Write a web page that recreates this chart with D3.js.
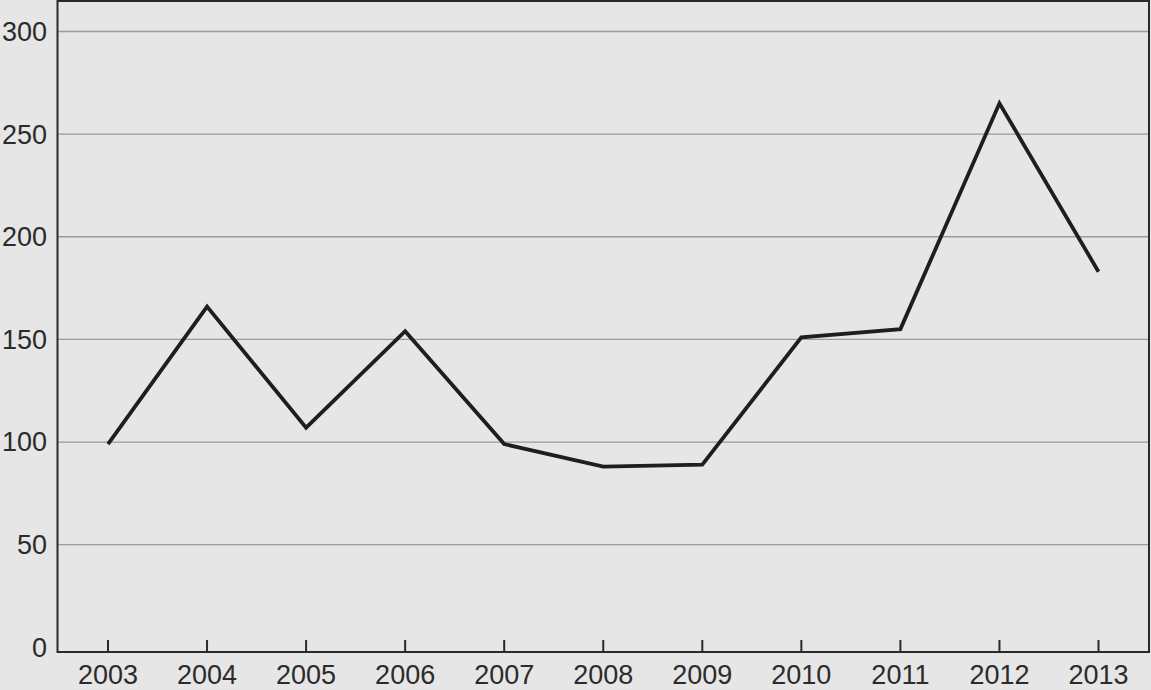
<!DOCTYPE html>
<html>
<head>
<meta charset="utf-8">
<script src="https://cdn.jsdelivr.net/npm/d3@7"></script>
<style>
  html, body { margin: 0; padding: 0; background: #e6e6e6; }
  svg { display: block; }
  text { font-family: "Liberation Sans", Arial, sans-serif; fill: #2b2b2b; }
</style>
</head>
<body>
<svg id="chart" width="1151" height="690"></svg>
<script>
// Data
const years = ['2003', '2004', '2005', '2006', '2007', '2008', '2009', '2010', '2011', '2012', '2013'];
const values = [99, 166, 107, 154, 99, 88, 89, 151, 155, 265, 183];
const yTicks = [0, 50, 100, 150, 200, 250, 300];

const svg = d3.select('#chart');
const width = 1151;
const height = 690;

// Plot frame
const frameLeft = 57.5;
const frameRight = 1149;
const frameTop = 1;
const frameBottom = 652;

const x = d3.scalePoint()
    .domain(years)
    .range([108, 1098.5]);

const y = d3.scaleLinear()
    .domain([0, 300])
    .range([647.3, 31.5]);

// Background
svg.append('rect')
    .attr('width', width)
    .attr('height', height)
    .attr('fill', '#e6e6e6');

// Gridlines (skip zero)
svg.append('g')
    .selectAll('line')
    .data(yTicks.filter(d => d > 0))
    .enter().append('line')
    .attr('x1', frameLeft)
    .attr('x2', frameRight)
    .attr('y1', d => y(d))
    .attr('y2', d => y(d))
    .attr('stroke', '#9a9a9a')
    .attr('stroke-width', 1.3);

// Y tick labels
svg.append('g')
    .selectAll('text')
    .data(yTicks)
    .enter().append('text')
    .attr('x', 47)
    .attr('y', d => y(d))
    .attr('dy', '0.35em')
    .attr('text-anchor', 'end')
    .style('font-size', '27px')
    .text(d => d);

// Frame: left axis, bottom axis, top and right border
svg.append('path')
    .attr('d', `M${frameLeft},${frameTop} L${frameRight},${frameTop} L${frameRight},${frameBottom} L${frameLeft},${frameBottom} Z`)
    .attr('fill', 'none')
    .attr('stroke', '#2a2a2a')
    .attr('stroke-width', 2);

// X ticks pointing up from the bottom axis
svg.append('g')
    .selectAll('line')
    .data(years)
    .enter().append('line')
    .attr('x1', d => x(d))
    .attr('x2', d => x(d))
    .attr('y1', frameBottom - 12)
    .attr('y2', frameBottom)
    .attr('stroke', '#2a2a2a')
    .attr('stroke-width', 2);

// X labels (kept just inside the bottom edge)
svg.append('g')
    .selectAll('text')
    .data(years)
    .enter().append('text')
    .attr('x', d => x(d))
    .attr('y', 684)
    .attr('text-anchor', 'middle')
    .style('font-size', '27px')
    .text(d => d);

// The line
const line = d3.line()
    .x((d, i) => x(years[i]))
    .y(d => y(d));

svg.append('path')
    .datum(values)
    .attr('d', line)
    .attr('fill', 'none')
    .attr('stroke', '#1e1e1e')
    .attr('stroke-width', 3.8)
    .attr('stroke-linejoin', 'miter');
</script>
</body>
</html>
